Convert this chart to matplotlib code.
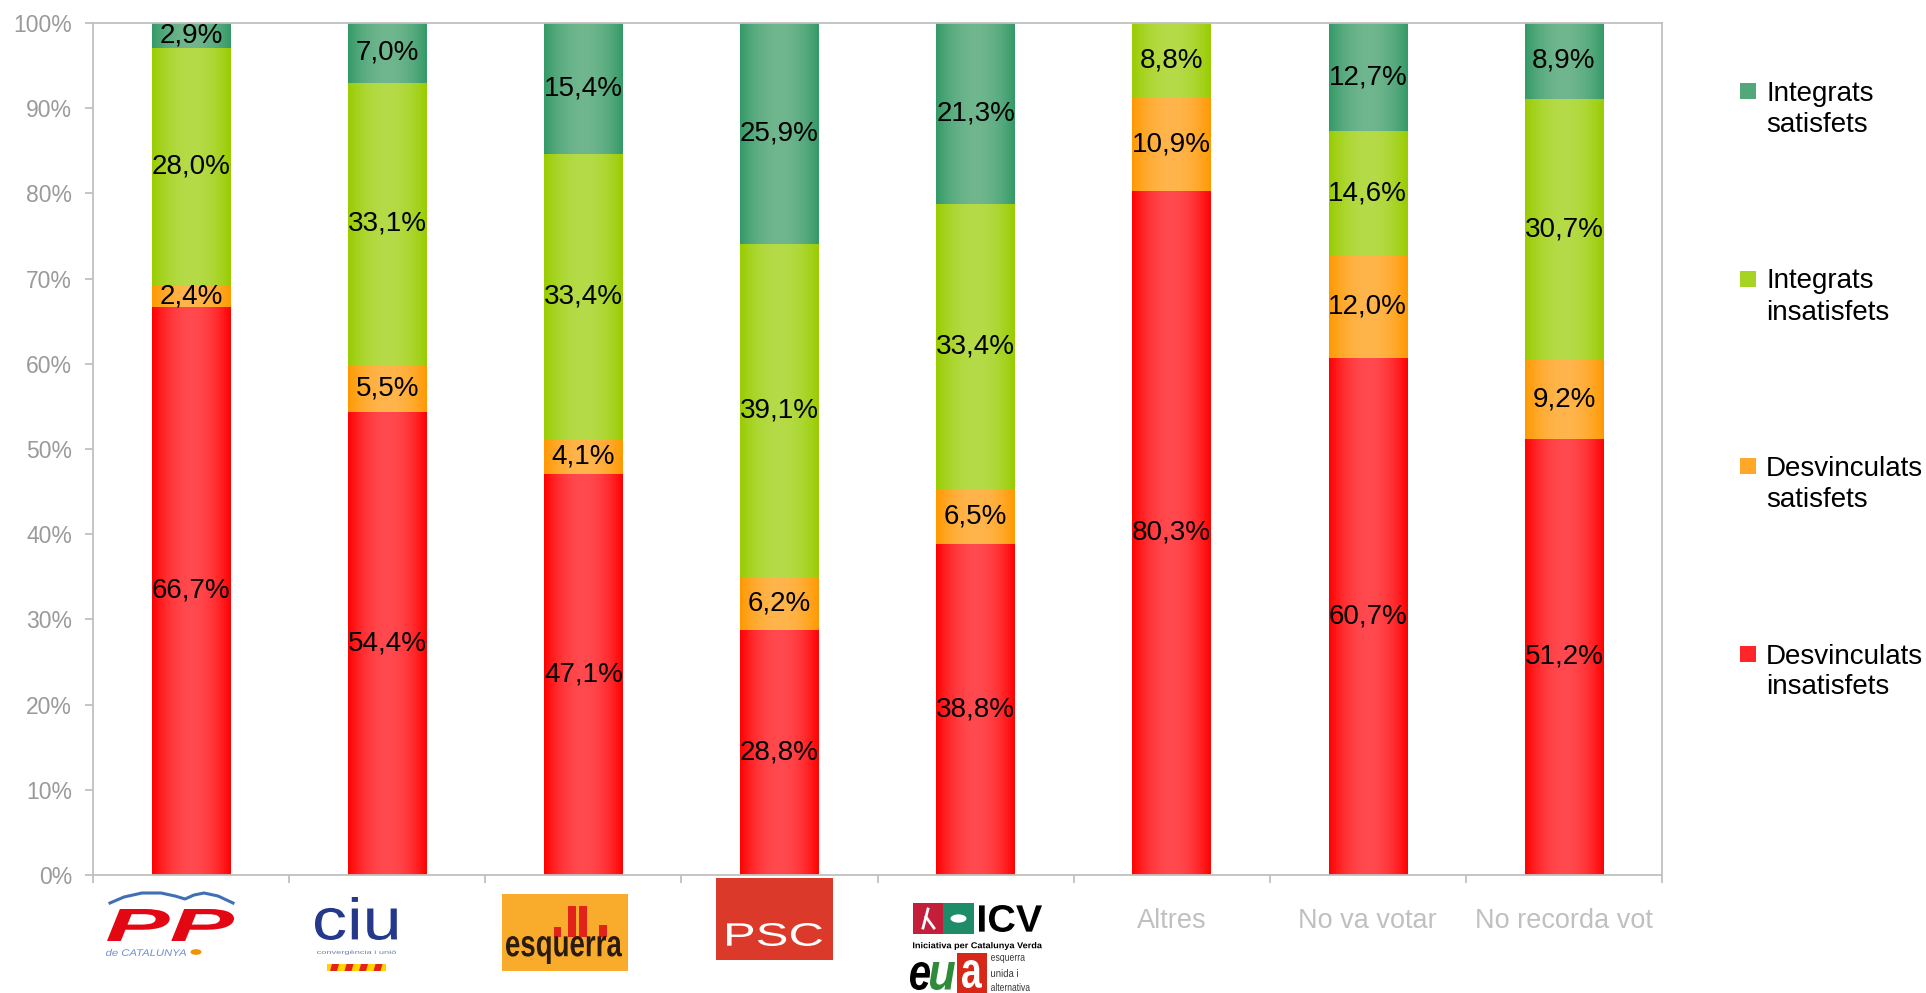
import matplotlib
matplotlib.use("Agg")
import matplotlib.pyplot as plt
import numpy as np
from matplotlib.patches import Rectangle, PathPatch, Circle, Polygon
from matplotlib.lines import Line2D
from matplotlib.textpath import TextPath
from matplotlib.font_manager import FontProperties
from matplotlib.transforms import Affine2D

plt.rcParams['font.family'] = ['Liberation Sans', 'DejaVu Sans']

# ---------------- data ----------------
categories = ["PP", "CiU", "ERC", "PSC", "ICV-EUiA", "Altres", "No va votar", "No recorda vot"]
tick_labels = ["", "", "", "", "", "Altres", "No va votar", "No recorda vot"]
desv_insat = [66.7, 54.4, 47.1, 28.8, 38.8, 80.3, 60.7, 51.2]
desv_sat = [2.4, 5.5, 4.1, 6.2, 6.5, 10.9, 12.0, 9.2]
integ_insat = [28.0, 33.1, 33.4, 39.1, 33.4, 8.8, 14.6, 30.7]
integ_sat = [2.9, 7.0, 15.4, 25.9, 21.3, 0.0, 12.7, 8.9]
series_names = ["Desvinculats\ninsatisfets", "Desvinculats\nsatisfets",
                "Integrats\ninsatisfets", "Integrats\nsatisfets"]
yticks = list(range(0, 101, 10))

# edge (dark) and centre (light) colours of the bar gradients
edge_cols = ["#FF0000", "#FF9900", "#99CC00", "#339966"]
centre_cols = ["#FF4A4F", "#FFB54C", "#B5DB48", "#70B68E"]

W, H = 1926, 993
fig = plt.figure(figsize=(W / 100, H / 100), dpi=100)
ax = fig.add_axes([93 / W, 1 - 875 / H, (1662 - 93) / W, (875 - 23) / H])

x = np.arange(len(categories))
series = [desv_insat, desv_sat, integ_insat, integ_sat]
bottom = np.zeros(len(categories))

t = np.linspace(0, 1, 256)
mix = np.clip(1 - np.abs(2 * t - 1) ** 2, 0, 1)


def hex2rgb(h):
    h = h.lstrip('#')
    return np.array([int(h[i:i + 2], 16) / 255 for i in (0, 2, 4)])


for vals, ec, cc in zip(series, edge_cols, centre_cols):
    vals = np.array(vals)
    bars = ax.bar(x, vals, 0.4, bottom=bottom, color=ec, linewidth=0, zorder=2)
    e, c = hex2rgb(ec), hex2rgb(cc)
    grad = (e[None, :] + (c - e)[None, :] * mix[:, None])[None, :, :]
    for p in bars:
        if p.get_height() > 0:
            ax.imshow(grad, extent=[p.get_x(), p.get_x() + p.get_width(),
                                    p.get_y(), p.get_y() + p.get_height()],
                      aspect='auto', zorder=2.2, interpolation='bilinear')
    labels = [("%.1f%%" % v).replace('.', ',') if v > 0 else "" for v in vals]
    ax.bar_label(bars, labels=labels, label_type='center', fontsize=20,
                 color='black', zorder=4)
    bottom = bottom + vals

ax.set_xlim(-0.5, len(categories) - 0.5)
ax.set_ylim(0, 100)
ax.set_yticks(yticks)
ax.set_yticklabels(["%d%%" % v for v in yticks])
ax.set_xticks(x)
ax.set_xticklabels(tick_labels)
ax.set_xticks(np.arange(-0.5, len(categories), 1), minor=True)

grey = "#C0C0C0"
for s in ax.spines.values():
    s.set_color(grey)
    s.set_linewidth(1.3)
ax.tick_params(axis='y', length=6, width=1.3, color=grey, labelsize=16.5,
               labelcolor="#9A9A9A", pad=9)
ax.tick_params(axis='x', which='major', length=0, labelsize=19.5,
               labelcolor="#C0C0C0", pad=24)
ax.tick_params(axis='x', which='minor', length=6, width=1.3, color=grey,
               direction='out')

# ---------------- legend (manual, like the original) ----------------
def fx(px):
    return px / W


def fy(py):
    return 1 - py / H


leg_order = [3, 2, 1, 0]
for k, i in enumerate(leg_order):
    yc = 91 + 187.5 * k
    col = (hex2rgb(edge_cols[i]) + hex2rgb(centre_cols[i])) / 2
    fig.add_artist(Rectangle((fx(1740), fy(yc + 8)), 16 / W, 16 / H,
                             transform=fig.transFigure, fc=col, ec='none'))
    l1, l2 = series_names[i].split("\n")
    fig.text(fx(1766), fy(yc + 10), l1, fontsize=20, va='baseline', ha='left')
    fig.text(fx(1766), fy(yc + 41), l2, fontsize=20, va='baseline', ha='left')


# ---------------- party logos (approximated with text and shapes) ----------------
def fit_text(s, x0, y0, x1, y1, color, weight='normal', style='normal',
             family='Liberation Sans'):
    fp = FontProperties(family=family, weight=weight, style=style)
    tp = TextPath((0, 0), s, size=100, prop=fp)
    ext = tp.get_extents()
    sx = (x1 - x0) / ext.width
    sy = (y1 - y0) / ext.height
    tr = (Affine2D().translate(-ext.x0, -ext.y0).scale(sx, sy)
          .translate(x0, H - y1).scale(1 / W, 1 / H) + fig.transFigure)
    fig.add_artist(PathPatch(tp, transform=tr, fc=color, ec='none'))


def rect_px(x0, y0, x1, y1, color):
    fig.add_artist(Rectangle((fx(x0), fy(y1)), (x1 - x0) / W, (y1 - y0) / H,
                             transform=fig.transFigure, fc=color, ec='none'))


def poly_px(pts, color):
    fig.add_artist(Polygon([(fx(a), fy(b)) for a, b in pts],
                           transform=fig.transFigure, fc=color, ec='none'))


# PP de Catalunya
gull = [(110, 903), (124, 897), (142, 893), (161, 893), (175, 896), (185, 899),
        (194, 895), (204, 893), (218, 896), (233, 903)]
fig.add_artist(Line2D([fx(a) for a, b in gull], [fy(b) for a, b in gull],
                      transform=fig.transFigure, color="#3F6FB5", lw=2.2))
fit_text("PP", 107, 909, 234, 941, "#E30613", weight='bold', style='italic')
fit_text("de CATALUNYA", 106, 949, 186, 956, "#6C8FCB", style='italic')
fig.add_artist(Circle((fx(196), fy(952)), 5.5 / W, transform=fig.transFigure,
                      fc="#F39200", ec='none'))

# CiU
fit_text("ciu", 315, 897, 397, 940, "#24388C")
fit_text("convergència i unió", 317, 950, 396, 955, "#6A7BB0")
rect_px(327, 964, 386, 971, "#FFD200")
for k in range(4):
    xs = 330 + 14.5 * k
    poly_px([(xs + 2, 964), (xs + 9, 964), (xs + 7, 971), (xs, 971)], "#E2231A")

# Esquerra
rect_px(502, 894, 628, 971, "#F9AC2C")
for (a, b, c) in [(554, 561, 927), (568, 576, 906), (579, 587, 906), (599, 607, 925)]:
    rect_px(a, c, b, 937, "#E2231A")
fit_text("esquerra", 506, 936, 622, 964, "#2B1B0E", weight='bold')

# PSC
rect_px(716, 878, 833, 960, "#DB3A2B")
fit_text("PSC", 727, 923, 822, 946, "white")

# ICV - EUiA
rect_px(913, 903, 943, 934, "#C41E3A")
fig.add_artist(Line2D([fx(928), fx(923)], [fy(909), fy(928)],
                      transform=fig.transFigure, color='white', lw=2))
fig.add_artist(Line2D([fx(926), fx(934)], [fy(917), fy(928)],
                      transform=fig.transFigure, color='white', lw=2))
rect_px(943, 903, 974, 934, "#1F8C69")
fig.add_artist(Circle((fx(958.5), fy(918.5)), 8 / W, transform=fig.transFigure,
                      fc='white', ec='none'))
fit_text("ICV", 979, 905, 1042, 932, "black", weight='bold')
fit_text("Iniciativa per Catalunya Verda", 913, 942, 1042, 950, "black", weight='bold')
fit_text("e", 910, 962, 930, 990, "black", weight='bold', style='italic')
fit_text("u", 930, 962, 955, 990, "#2E8B3A", weight='bold', style='italic')
rect_px(957, 953, 987, 993, "#D62718")
fit_text("a", 962, 960, 982, 988, "white", weight='bold')
fit_text("esquerra", 991, 955, 1025, 963, "#333333")
fit_text("unida i", 991, 969, 1018, 977, "#333333")
fit_text("alternativa", 991, 983, 1030, 991, "#333333")

fig.savefig("out.png", dpi=100)
